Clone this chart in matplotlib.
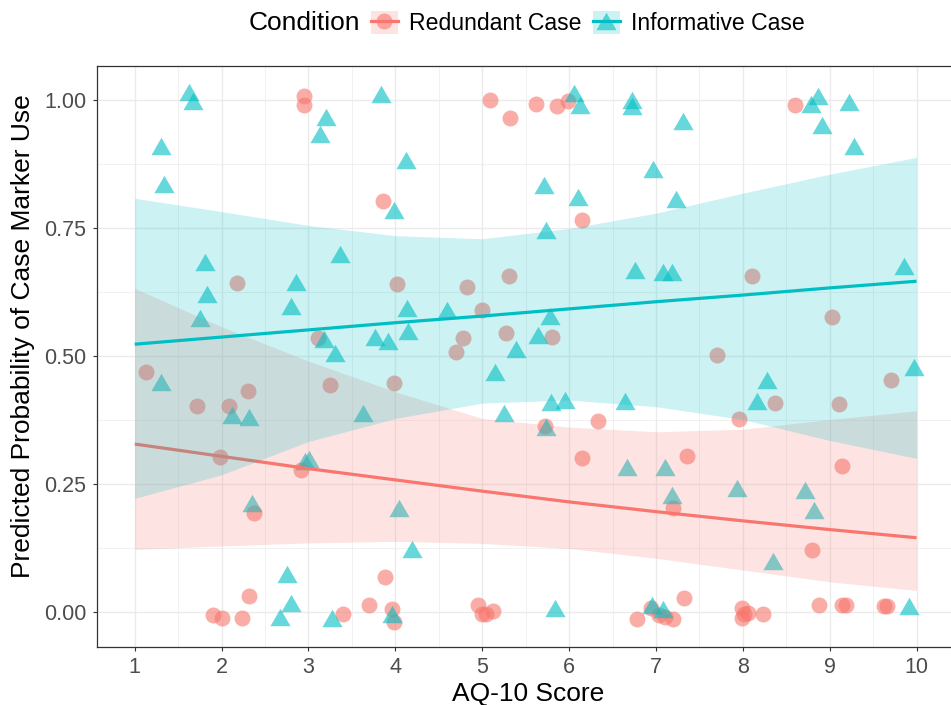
import matplotlib
matplotlib.use("Agg")
import matplotlib.pyplot as plt
from matplotlib.lines import Line2D
from matplotlib.patches import Patch
from matplotlib.path import Path
from matplotlib.legend_handler import HandlerTuple
from matplotlib import colors as mcolors

plt.rcParams['font.family'] = ['Liberation Sans', 'DejaVu Sans']

RED = '#F8766D'
CYAN = '#00BFC4'

# jittered responses, redundant case condition
red_x = [2.944, 2.944, 5.085, 5.318, 3.862, 2.181, 4.022, 4.826, 5.303, 5.002, 4.773, 5.268, 4.701, 3.115,
         5.623, 5.859, 5.992, 6.149, 8.603, 8.108, 9.026, 5.806, 7.707,
         1.133, 1.713, 2.082, 2.303, 3.245, 3.988, 1.979, 2.913, 2.376, 2.319, 1.896, 2.010, 2.235,
         3.393, 3.702, 3.881, 3.965, 3.984, 4.956, 4.994, 5.047, 5.123,
         9.708, 8.367, 9.110, 7.959, 5.726, 6.328, 6.152, 7.353, 9.137, 7.193, 8.797, 7.326,
         6.784, 6.944, 7.040, 7.108, 7.200, 7.990, 8.010, 8.060, 7.985, 8.236,
         8.881, 9.137, 9.186, 9.625, 9.663]
red_y = [1.007, 0.990, 1.000, 0.964, 0.803, 0.642, 0.641, 0.635, 0.656, 0.590, 0.536, 0.544, 0.507, 0.536,
         0.992, 0.988, 0.999, 0.766, 0.990, 0.657, 0.577, 0.538, 0.502,
         0.468, 0.402, 0.402, 0.431, 0.443, 0.448, 0.303, 0.277, 0.194, 0.032, -0.005, -0.012, -0.012,
         -0.004, 0.014, 0.068, 0.005, -0.019, 0.014, -0.003, -0.004, 0.001,
         0.453, 0.408, 0.406, 0.376, 0.363, 0.374, 0.300, 0.305, 0.286, 0.204, 0.122, 0.028,
         -0.014, 0.007, -0.006, -0.009, -0.014, 0.008, -0.003, -0.002, -0.012, -0.004,
         0.014, 0.014, 0.014, 0.012, 0.012]

# jittered responses, informative case condition
cyan_x = [1.621, 1.675, 1.305, 1.332, 3.199, 3.127, 3.832, 4.117, 3.984, 3.359, 1.808, 1.827, 1.751,
          2.856, 2.799, 4.136, 4.598, 4.147, 3.763, 3.915, 3.184, 3.306, 5.385,
          6.053, 6.130, 6.728, 6.720, 7.315, 8.862, 8.782, 9.225, 8.915, 9.282, 6.962, 5.714, 6.107,
          7.231, 5.733, 6.762, 7.078, 7.181, 9.854, 5.775, 5.638,
          1.297, 2.117, 2.315, 3.630, 5.143, 5.249, 3.008, 2.963, 2.353, 4.041, 4.190, 2.753, 2.799,
          2.669, 3.268, 3.961,
          5.794, 5.954, 6.648, 5.737, 9.967, 8.283, 8.165, 6.663, 7.101, 7.189, 7.932, 8.710, 8.816,
          8.343, 5.836, 6.960, 7.078, 9.918]
cyan_y = [1.016, 0.999, 0.910, 0.836, 0.967, 0.934, 1.011, 0.883, 0.785, 0.700, 0.684, 0.621, 0.575,
          0.645, 0.598, 0.593, 0.590, 0.548, 0.538, 0.530, 0.534, 0.505, 0.513,
          1.013, 0.990, 1.000, 0.988, 0.959, 1.007, 0.993, 0.997, 0.951, 0.910, 0.866, 0.834, 0.811,
          0.806, 0.746, 0.667, 0.665, 0.665, 0.676, 0.578, 0.541,
          0.450, 0.385, 0.380, 0.388, 0.468, 0.388, 0.299, 0.294, 0.212, 0.204, 0.124, 0.074, 0.018,
          -0.010, -0.011, -0.003,
          0.411, 0.415, 0.412, 0.362, 0.478, 0.453, 0.412, 0.284, 0.284, 0.229, 0.242, 0.238, 0.199,
          0.100, 0.007, 0.014, 0.005, 0.012]

# fitted probability and 95% band per AQ-10 score
fit_x = [1, 2, 3, 4, 5, 6, 7, 8, 9, 10]
red_fit = [0.328, 0.304, 0.280, 0.258, 0.236, 0.215, 0.196, 0.178, 0.161, 0.145]
red_lo = [0.122, 0.129, 0.135, 0.138, 0.134, 0.124, 0.105, 0.082, 0.059, 0.042]
red_hi = [0.632, 0.557, 0.490, 0.430, 0.378, 0.361, 0.352, 0.357, 0.376, 0.393]
cyan_fit = [0.523, 0.537, 0.551, 0.565, 0.578, 0.592, 0.606, 0.619, 0.633, 0.646]
cyan_lo = [0.222, 0.268, 0.333, 0.378, 0.408, 0.414, 0.401, 0.376, 0.335, 0.300]
cyan_hi = [0.808, 0.782, 0.755, 0.735, 0.729, 0.749, 0.779, 0.818, 0.855, 0.888]

x_ticks = [1, 2, 3, 4, 5, 6, 7, 8, 9, 10]
y_ticks = [0.0, 0.25, 0.5, 0.75, 1.0]
y_labels = ['0.00', '0.25', '0.50', '0.75', '1.00']

# equilateral triangle like ggplot shape 17
tri = Path([(-1, -0.866), (1, -0.866), (0, 0.866), (-1, -0.866)],
           [Path.MOVETO, Path.LINETO, Path.LINETO, Path.CLOSEPOLY])

W, H = 951, 705
fig = plt.figure(figsize=(W / 100, H / 100), dpi=100)
ax = fig.add_axes([96.7 / W, (H - 646.7) / H, (960 - 96.7) / W, (646.7 - 65.7) / H])

ax.plot(red_x, red_y, linestyle='none', marker='o', markersize=11.5,
        markerfacecolor=RED, markeredgecolor='none', alpha=0.6, zorder=2)
ax.plot(cyan_x, cyan_y, linestyle='none', marker=tri, markersize=14.5,
        markerfacecolor=CYAN, markeredgecolor='none', alpha=0.6, zorder=2)

ax.fill_between(fit_x, red_lo, red_hi, color=RED, alpha=0.2, linewidth=0, zorder=3)
ax.plot(fit_x, red_fit, color=RED, lw=2.3, zorder=3, solid_capstyle='butt')
ax.fill_between(fit_x, cyan_lo, cyan_hi, color=CYAN, alpha=0.2, linewidth=0, zorder=3)
ax.plot(fit_x, cyan_fit, color=CYAN, lw=2.3, zorder=3, solid_capstyle='butt')

ax.set_xlim(0.562, 10.438)
ax.set_ylim(-0.0678, 1.067)
ax.set_xticks(x_ticks)
ax.set_xticks([v + 0.5 for v in x_ticks], minor=True)
ax.set_yticks(y_ticks)
ax.set_yticklabels(y_labels)
ax.set_yticks([v + 0.125 for v in y_ticks[:-1]], minor=True)

ax.set_axisbelow(True)
ax.grid(which='major', color='#EBEBEB', lw=1.0)
ax.grid(which='minor', color='#EBEBEB', lw=0.5)
ax.tick_params(which='major', length=2.7, width=0.8, color='#333333',
               labelcolor='#4D4D4D', labelsize=15.5, pad=4.8)
ax.tick_params(which='minor', length=0)
for s in ['top', 'left', 'bottom', 'right']:
    ax.spines[s].set_color('#333333')
    ax.spines[s].set_linewidth(0.9)

fig.text(528 / W, 3.5 / H, 'AQ-10 Score', ha='center', va='baseline', fontsize=19)
fig.text(23 / W, 1 - 336 / H, 'Predicted Probability of Case Marker Use',
         rotation=90, ha='center', va='center', fontsize=19)

# legend across the top
fig.text(249 / W, 1 - 23 / H, 'Condition', ha='left', va='center', fontsize=19)
handles = []
for c, m, ms in [(RED, 'o', 11.5), (CYAN, tri, 14.5)]:
    pt = Line2D([], [], linestyle='none', marker=m, markersize=ms,
                markerfacecolor=mcolors.to_rgba(c, 0.6), markeredgecolor='none')
    band = Patch(facecolor=c, alpha=0.2, edgecolor='none')
    ln = Line2D([], [], color=c, lw=2.3)
    handles.append((pt, band, ln))
fig.legend(handles, ['Redundant Case', 'Informative Case'],
           handler_map={tuple: HandlerTuple(ndivide=1)},
           loc='center left', bbox_to_anchor=(371 / W, 1 - 23 / H), ncol=2,
           frameon=False, fontsize=16.6, borderpad=0, borderaxespad=0,
           handlelength=1.17, handleheight=1.13, handletextpad=0.48,
           columnspacing=0.48)

fig.savefig('out.png', dpi=100)
